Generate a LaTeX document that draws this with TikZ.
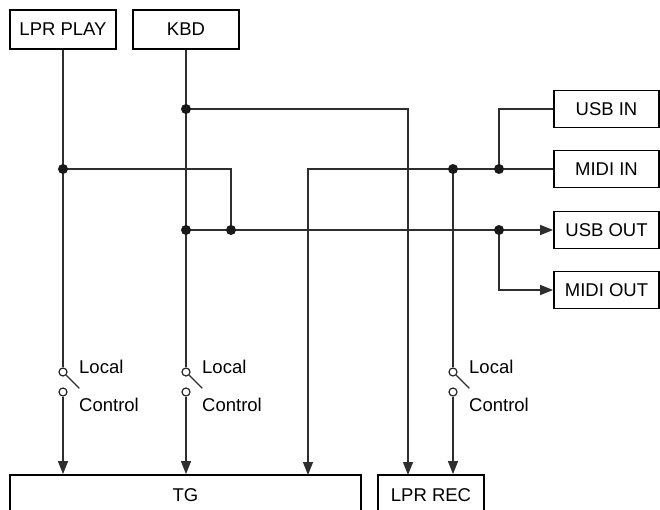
\documentclass[tikz,border=0pt]{standalone}
\usepackage{fontspec}
\setmainfont{Liberation Sans}
\usetikzlibrary{arrows.meta,calc}
\tikzset{
  unit/.style={draw, line width=1.8pt, inner sep=0pt, font=\fontsize{18.5}{20}\selectfont},
  wireln/.style={line width=1.4pt, draw=black!82},
  sigarr/.style={wireln, -{Triangle[length=13pt,width=10pt]}},
  contact/.style={circle, draw=black!85, line width=1.2pt, fill=white, inner sep=0pt, minimum size=8pt},
  swlbl/.style={anchor=west, inner sep=0pt, font=\fontsize{18.5}{20}\selectfont},
}

\begin{document}
\begin{tikzpicture}[x=1pt,y=-1pt]
    \clip (0,0) rectangle (660,510);
    % ----- units -----
    \node[unit, minimum width=106pt, minimum height=39pt] (play) at (63,29.5) {LPR PLAY};
    \node[unit, minimum width=106pt, minimum height=39pt] (kbd) at (186,29.5) {KBD};
    \node[unit, minimum width=105pt, minimum height=37pt] (usbin) at (606.5,109) {USB IN};
    \node[unit, minimum width=105pt, minimum height=37pt] (midiin) at (606.5,169) {MIDI IN};
    \node[unit, minimum width=105pt, minimum height=37pt] (usbout) at (606.5,230) {USB OUT};
    \node[unit, minimum width=105pt, minimum height=37pt] (midiout) at (606.5,290) {MIDI OUT};
    \node[unit, minimum width=351pt, minimum height=40pt] (tg) at (185.5,495) {TG};
    \node[unit, minimum width=106pt, minimum height=40pt] (rec) at (431,495) {LPR REC};
    % ----- junctions -----
    \coordinate (jk1) at (186,109);
    \coordinate (jp) at (63,169);
    \coordinate (jk2) at (186,230);
    \coordinate (jp2) at (231,230);
    \coordinate (jm1) at (453,169);
    \coordinate (jm2) at (499,169);
    \coordinate (ju) at (499,230);
    \coordinate (tg3) at (308,475);
    \coordinate (rec1) at (408,475);
    % ----- local control switches -----
    \node[contact] (sa1) at (63,372) {};
    \node[contact] (sa2) at (63,392) {};
    \node[contact] (sb1) at (186,372) {};
    \node[contact] (sb2) at (186,392) {};
    \node[contact] (sc1) at (453,372) {};
    \node[contact] (sc2) at (453,392) {};
    \draw[wireln] (sa1.-45) -- ++(13,13);
    \draw[wireln] (sb1.-45) -- ++(13,13);
    \draw[wireln] (sc1.-45) -- ++(13,13);
    \node[swlbl] (la) at (79,367) {Local};
    \node[swlbl] (ca) at (79,405) {Control};
    \node[swlbl] (lb) at (202,367) {Local};
    \node[swlbl] (cb) at (202,405) {Control};
    \node[swlbl] (lc) at (469,367) {Local};
    \node[swlbl] (cc) at (469,405) {Control};
    % ----- wiring -----
    \draw[wireln] (play) -- (sa1);
    \draw[wireln] (kbd) -- (sb1);
    \draw[wireln] (jm1) -- (sc1);
    \draw[sigarr] (sa2) -- (sa2 |- tg.north);
    \draw[sigarr] (sb2) -- (sb2 |- tg.north);
    \draw[sigarr] (sc2) -- (sc2 |- rec.north);
    \draw[sigarr] (jk1) -| (rec1);
    \draw[wireln] (jp) -| (jp2);
    \draw[sigarr] (jk2) -- (usbout.west);
    \draw[sigarr] (ju) |- (midiout.west);
    \draw[wireln] (usbin.west) -| (jm2);
    \draw[sigarr] (midiin.west) -| (tg3);
    % dots on top
    \foreach \j in {jk1,jp,jk2,jp2,jm1,jm2,ju}
      \fill[black!90] (\j) circle (5pt);
\end{tikzpicture}
\end{document}
